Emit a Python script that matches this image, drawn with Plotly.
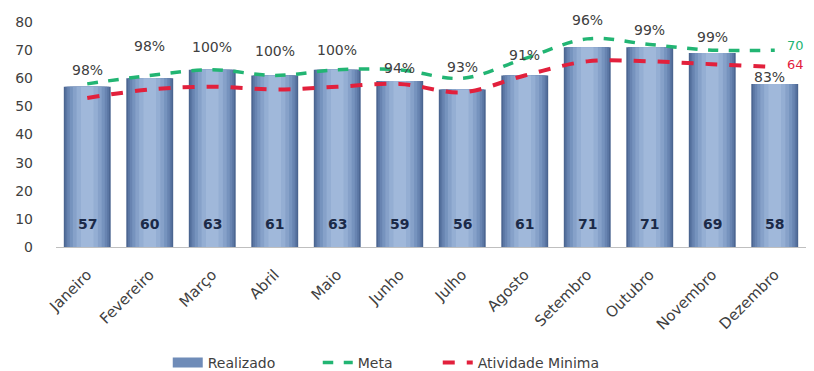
import plotly.graph_objects as go

months = ["Janeiro", "Fevereiro", "Março", "Abril", "Maio", "Junho", "Julho",
          "Agosto", "Setembro", "Outubro", "Novembro", "Dezembro"]
realizado = [57, 60, 63, 61, 63, 59, 56, 61, 71, 71, 69, 58]
meta = [58, 61, 63, 61, 63, 63, 60, 67, 74, 72, 70, 70]
atividade_minima = [53, 56, 57, 56, 57, 58, 55, 61, 66, 66, 65, 64]
percent_labels = ["98%", "98%", "100%", "100%", "100%", "94%", "93%", "91%",
                  "96%", "99%", "99%", "83%"]

# pixel offsets of percentage labels relative to the Meta line (styling)
pct_shift = [14, 29, 23, 24, 20, 2, 11, 4, 19, 15, 13, -27]
pct_xshift = [0, 0, 0, 0, 0, 0, 0, 0, 0, 0, 0, -5]

font_family = "DejaVu Sans, Verdana, sans-serif"
grey = "#404040"
green = "#22B573"
red = "#E2203C"

fig = go.Figure()

# cylinder-like shading using layered bars
layers = [
    (0.75, "#4B6590"),
    (0.70, "#5A76A3"),
    (0.64, "#6884B1"),
    (0.56, "#7693BE"),
    (0.46, "#86A1C9"),
    (0.34, "#94AED3"),
    (0.20, "#A0B8DA"),
]
for i, (w, c) in enumerate(layers):
    fig.add_trace(go.Bar(
        x=months, y=realizado, width=w,
        marker=dict(color=c, line=dict(width=0)),
        name="Realizado", showlegend=False,
        hoverinfo="skip" if i else None,
        offset=-w / 2,
    ))

# legend entry for the bars (wide rectangle like the reference)
fig.add_trace(go.Scatter(
    x=[None], y=[None], mode="lines", name="Realizado",
    line=dict(color="#6F8CB8", width=11), legend="legend",
))
fig.add_trace(go.Scatter(
    x=months, y=meta, mode="lines", name="Meta",
    line=dict(color=green, width=3.5, dash="dash", shape="spline"),
    legend="legend2",
))
fig.add_trace(go.Scatter(
    x=months, y=atividade_minima, mode="lines", name="Atividade Minima",
    line=dict(color=red, width=4, dash="dash", shape="spline"),
    legend="legend3",
))

annotations = []
for m, v in zip(months, realizado):
    annotations.append(dict(
        x=m, y=0, yshift=23, text="<b>%d</b>" % v, showarrow=False,
        font=dict(family=font_family, size=14, color="#1B2A48"),
        xanchor="center", yanchor="middle",
    ))
for m, v, t, s, xs in zip(months, meta, percent_labels, pct_shift, pct_xshift):
    annotations.append(dict(
        x=m, y=v, yshift=s, xshift=xs, text=t, showarrow=False,
        font=dict(family=font_family, size=14, color=grey),
        xanchor="center", yanchor="middle",
    ))
annotations.append(dict(
    xref="paper", x=1, xshift=0, y=meta[-1], yshift=5, text=str(meta[-1]),
    showarrow=False, font=dict(family=font_family, size=13, color=green),
    xanchor="right", yanchor="middle",
))
annotations.append(dict(
    xref="paper", x=1, xshift=0, y=atividade_minima[-1], yshift=3,
    text=str(atividade_minima[-1]), showarrow=False,
    font=dict(family=font_family, size=13, color=red),
    xanchor="right", yanchor="middle",
))

legend_common = dict(
    orientation="h", yref="container", y=0.022, yanchor="middle",
    xanchor="left", font=dict(size=14, color=grey, family=font_family),
    bgcolor="rgba(0,0,0,0)",
)

fig.update_layout(
    width=806, height=363,
    margin=dict(l=48, r=8, t=14, b=124),
    paper_bgcolor="white", plot_bgcolor="white",
    barmode="overlay",
    font=dict(family=font_family, size=14, color=grey),
    showlegend=True,
    legend=dict(x=0.149, **legend_common),
    legend2=dict(x=0.349, **legend_common),
    legend3=dict(x=0.509, **legend_common),
    annotations=annotations,
)
fig.update_xaxes(
    tickangle=-45, showline=True, linecolor="#BFBFBF", linewidth=1,
    ticks="", showgrid=False, range=[-0.5, 11.5], automargin=False,
    ticklabelstandoff=12,
    tickfont=dict(family=font_family, size=15, color=grey),
)
fig.update_yaxes(
    range=[0, 80], dtick=10, showgrid=False, showline=False, zeroline=False,
    ticks="", ticklabelstandoff=22, automargin=False,
    tickfont=dict(family=font_family, size=14, color=grey),
)

fig.write_html("out.html")
